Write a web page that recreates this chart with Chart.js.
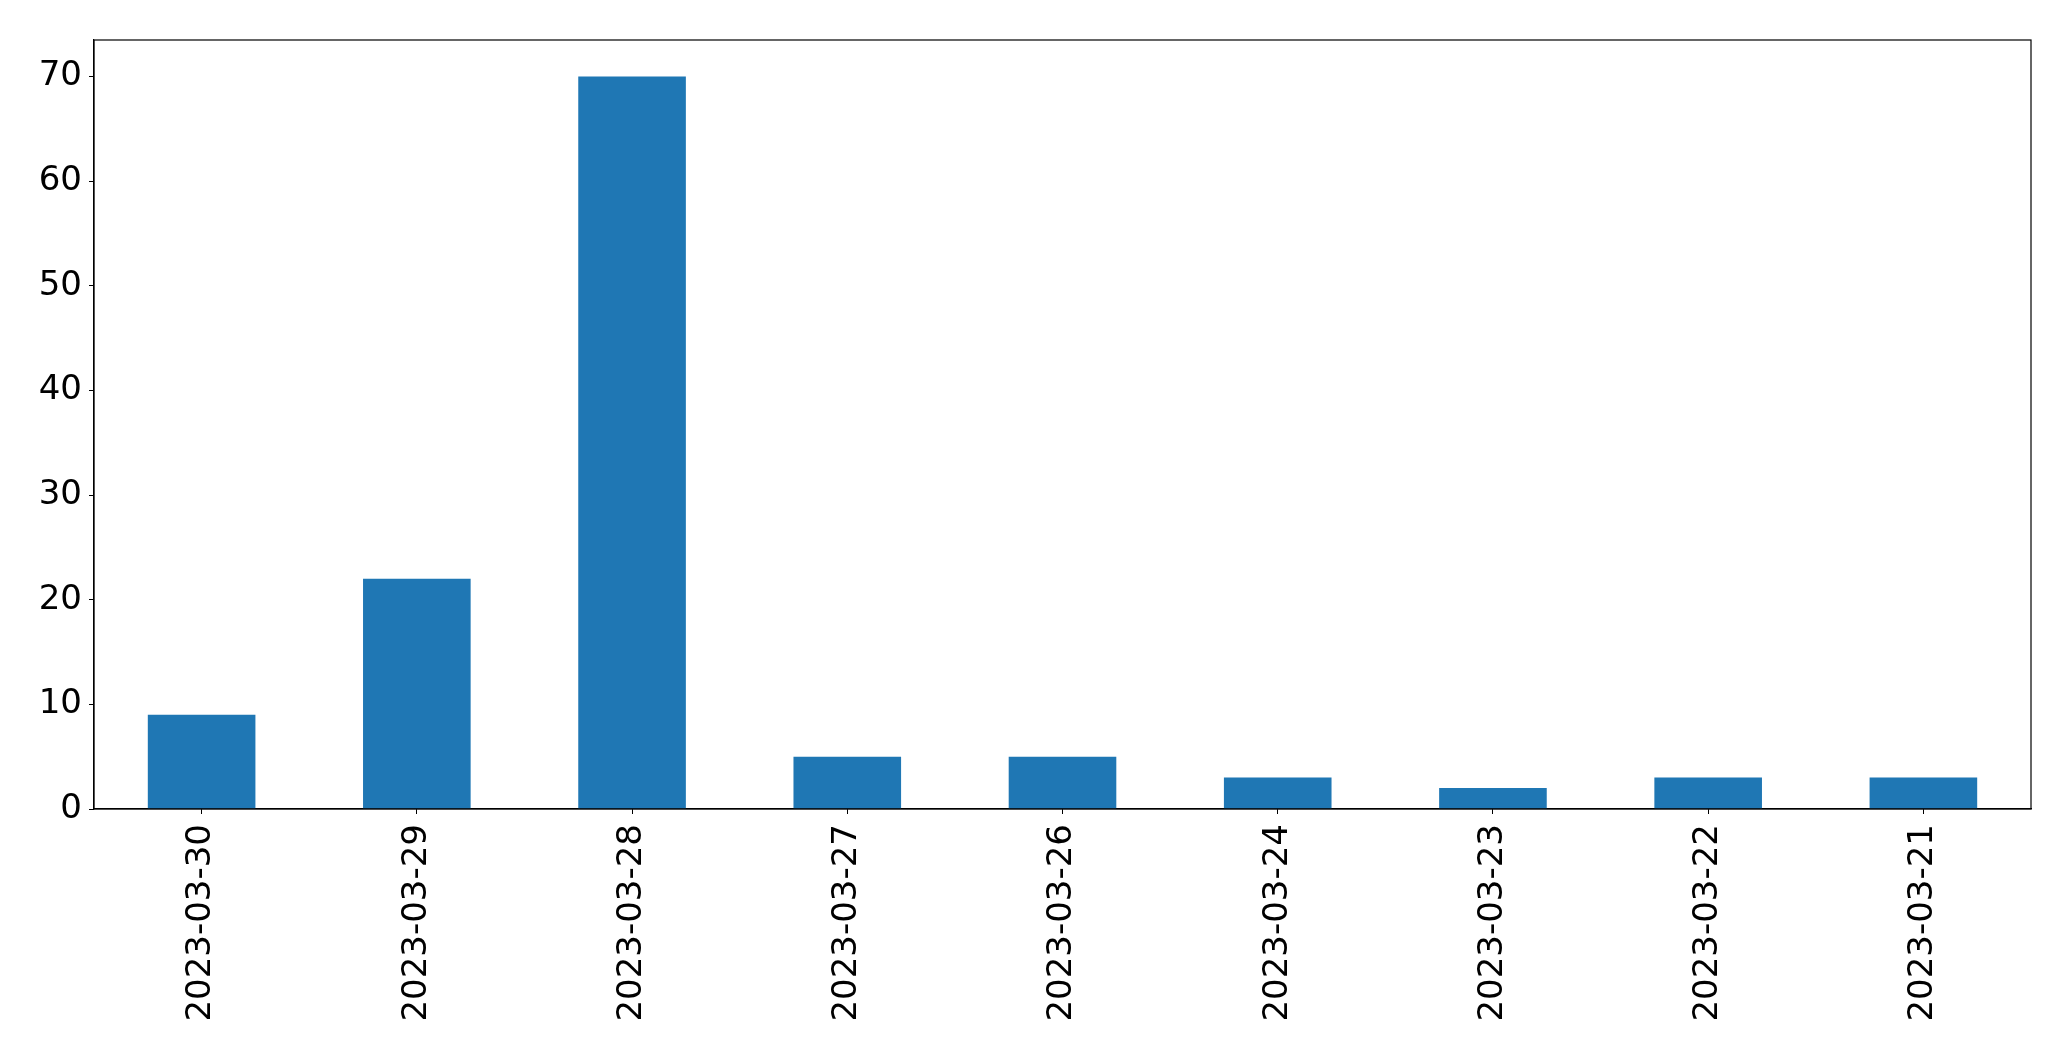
<!DOCTYPE html>
<html>
<head>
<meta charset="utf-8">
<script src="https://cdn.jsdelivr.net/npm/chart.js@4/dist/chart.umd.min.js"></script>
<style>
html,body{margin:0;padding:0;background:#fff;}
#wrap{width:2071px;height:1061px;position:relative;}
</style>
</head>
<body>
<div id="wrap"><canvas id="c" width="2071" height="1061"></canvas></div>
<script>
const categories = ["2023-03-30","2023-03-29","2023-03-28","2023-03-27","2023-03-26","2023-03-24","2023-03-23","2023-03-22","2023-03-21"];
const values = [9, 22, 70, 5, 5, 3, 2, 3, 3];
const yTicks = [0, 10, 20, 30, 40, 50, 60, 70];
const yMax = 73.5;

const FONT = "'DejaVu Sans', sans-serif";
const frame = {
  id: 'frame',
  afterDraw(chart) {
    const a = chart.chartArea, ctx = chart.ctx;
    ctx.save();
    ctx.strokeStyle = '#000';
    ctx.lineWidth = 1.2;
    ctx.strokeRect(a.left, a.top, a.right - a.left, a.bottom - a.top);
    ctx.restore();
  }
};

new Chart(document.getElementById('c'), {
  type: 'bar',
  data: {
    labels: categories,
    datasets: [{
      data: values,
      backgroundColor: '#1f77b4',
      borderWidth: 0,
      barPercentage: 0.5,
      categoryPercentage: 1.0
    }]
  },
  options: {
    responsive: false,
    animation: false,
    devicePixelRatio: 1,
    layout: { padding: { left: 0, top: 40, right: 40, bottom: 0 } },
    plugins: { legend: { display: false }, tooltip: { enabled: false } },
    scales: {
      x: {
        offset: true,
        grid: { display: true, drawOnChartArea: false, drawTicks: true, tickLength: 5, color: '#000', offset: false },
        border: { display: true, color: '#000', width: 1.2 },
        ticks: { color: '#000', font: { family: FONT, size: 34 }, minRotation: 90, maxRotation: 90, padding: 10, autoSkip: false },
        afterFit(s) { s.height = 1061 - 809; }
      },
      y: {
        min: 0,
        max: yMax,
        grid: { display: true, drawOnChartArea: false, drawTicks: true, tickLength: 5, color: '#000' },
        border: { display: true, color: '#000', width: 1.2 },
        ticks: { color: '#000', font: { family: FONT, size: 34 }, padding: 7 },
        afterBuildTicks(s) { s.ticks = yTicks.map(v => ({ value: v })); },
        afterFit(s) { s.width = 94; }
      }
    }
  },
  plugins: [frame]
});
</script>
</body>
</html>
